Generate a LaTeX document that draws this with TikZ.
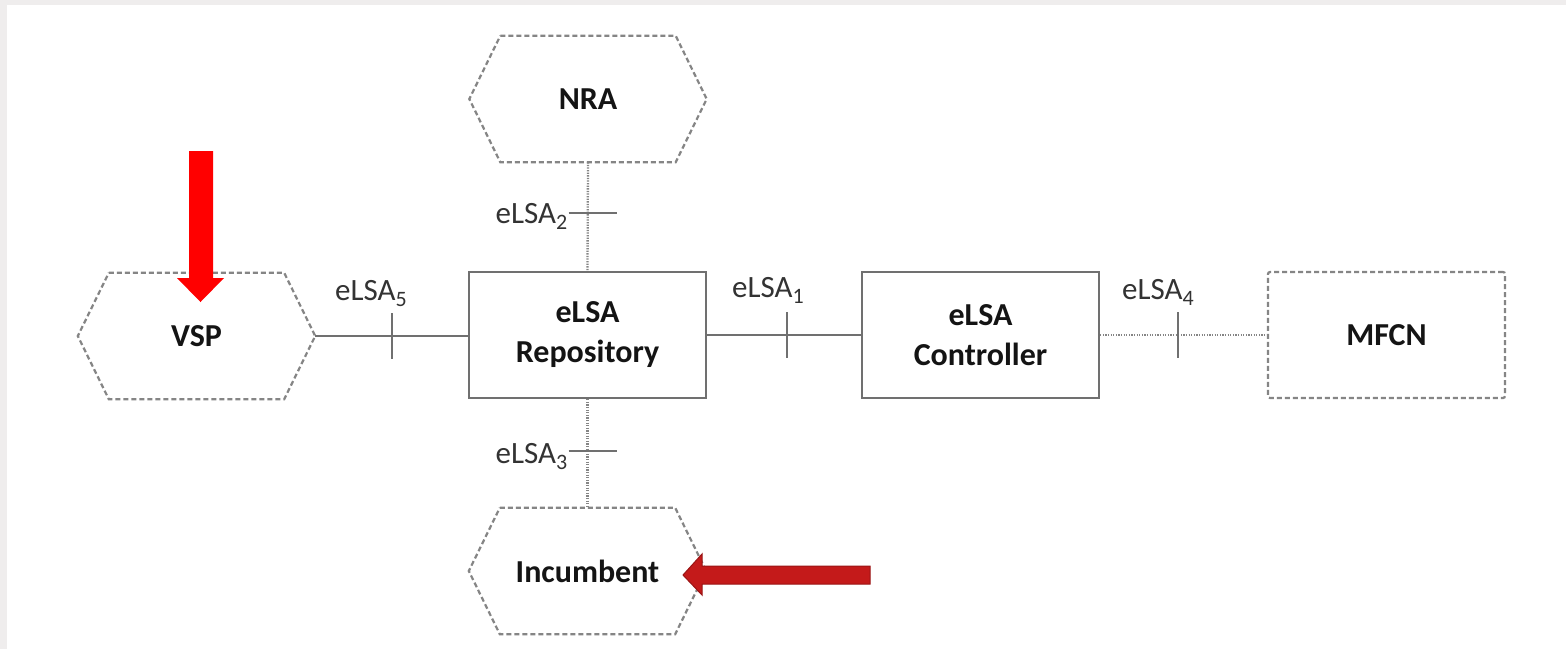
\documentclass[tikz,border=0pt]{standalone}
\usepackage{fontspec}
\setmainfont{Carlito}
\usetikzlibrary{calc}

\definecolor{edgegray}{HTML}{707070}
\definecolor{dashgray}{HTML}{858585}
\definecolor{framegray}{HTML}{EFEDED}
\definecolor{labelgray}{HTML}{333333}
\definecolor{arrowred}{HTML}{FF0000}
\definecolor{darkfill}{HTML}{C41A1A}
\definecolor{darkrim}{HTML}{9A1414}

% interface index, set lowered and smaller
\newcommand\ifsub[1]{\raisebox{-0.22em}{\fontsize{22}{22}\selectfont #1}}

\begin{document}
\begin{tikzpicture}[x=1pt,y=-1pt,
  entity/.style={minimum width=237pt, minimum height=126pt, inner sep=0pt,
    align=center, font=\fontsize{32}{40}\selectfont\bfseries, text=black!92},
  solidbox/.style={entity, draw=edgegray, line width=2.3pt},
  dashbox/.style={entity, draw=dashgray, line width=2.2pt,
    dash pattern=on 5pt off 3pt, rounded corners=2pt},
  hexline/.style={draw=dashgray, line width=2.2pt, dash pattern=on 5pt off 3pt},
  link/.style={draw=edgegray, line width=2.3pt},
  dotlink/.style={draw=dashgray, line width=2.3pt, dash pattern=on 1.3pt off 1.3pt},
  tickmark/.style={draw=edgegray, line width=2.3pt},
  iface/.style={font=\fontsize{31}{36}\selectfont, text=labelgray, inner sep=0pt},
]
% page frame
\fill[framegray] (0,0) rectangle (1566,649);
\fill[white] (7,5) rectangle (1566,649);
\useasboundingbox (0,0) rectangle (1566,649);

% functional blocks
\node[solidbox] (repo) at (587.5,335) {eLSA\\Repository};
\node[solidbox] (ctrl) at (980.5,335) {eLSA\\Controller};
\node[dashbox]  (mfcn) at (1386.5,335) {MFCN};

% external actors (hexagons)
\node[entity] (vsp) at (196.5,336) {VSP};
\node[entity] (nra) at (588,99) {NRA};
\node[entity] (inc) at (587.5,571) {Incumbent};
\foreach \h in {vsp,nra,inc}
  \draw[hexline] ($(\h.north west)+(31,0)$) -- ($(\h.north east)+(-31,0)$)
    -- (\h.east) -- ($(\h.south east)+(-31,0)$) -- ($(\h.south west)+(31,0)$)
    -- (\h.west) -- cycle;

% reference points
\draw[link] (vsp.east) -- (repo.west |- vsp.east);
\draw[link] (repo.east) -- (ctrl.west);
\draw[dotlink] (ctrl.east) -- (mfcn.west);
\draw[dotlink] (nra.south) -- (repo.north);
\draw[dotlink] (repo.south) -- (inc.north);

% interface ticks
\coordinate (t5) at (392,336);
\coordinate (t1) at (787,335);
\coordinate (t4) at (1178,335);
\coordinate (t2) at (587.5,213);
\coordinate (t3) at (587.5,451);
\foreach \t in {t5,t1,t4}
  \draw[tickmark] ($(\t)+(0,-23)$) -- ($(\t)+(0,23)$);
\foreach \t in {t2,t3}
  \draw[tickmark] ($(\t)+(-19,0)$) -- ($(\t)+(29,0)$);

% interface labels
\node[iface, anchor=base west] (l5) at ($(t5)+(-57,-36)$) {eLSA\ifsub{5}};
\node[iface, anchor=base west] (l1) at ($(t1)+(-55,-38)$) {eLSA\ifsub{1}};
\node[iface, anchor=base west] (l4) at ($(t4)+(-56,-36)$) {eLSA\ifsub{4}};
\node[iface, anchor=base east] (l2) at ($(t2)+(-20,10)$) {eLSA\ifsub{2}};
\node[iface, anchor=base east] (l3) at ($(t3)+(-20,12)$) {eLSA\ifsub{3}};

% highlight arrows
\fill[arrowred] (189,151) -- (213,151) -- (213,278) -- (224,278)
  -- (200.5,302) -- (177,278) -- (189,278) -- cycle;
\filldraw[fill=darkfill, draw=darkrim, line width=1pt]
  (870,566) -- (870,584) -- (702,584) -- (702,595) -- (683,575)
  -- (702,554) -- (702,566) -- cycle;
\end{tikzpicture}
\end{document}
